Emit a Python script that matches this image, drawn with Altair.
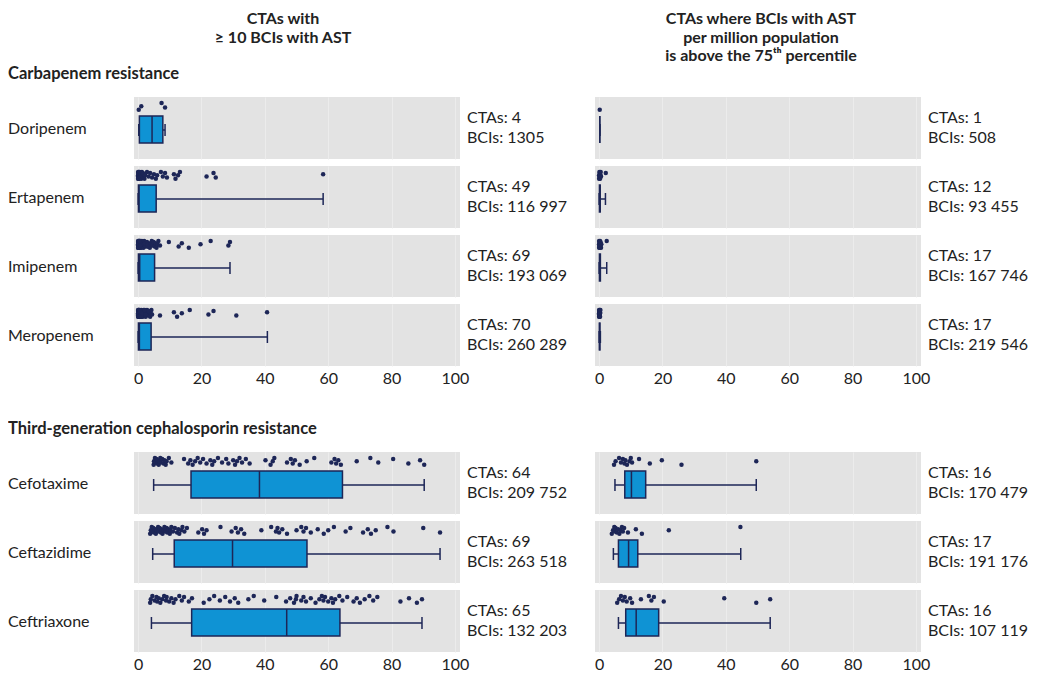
import altair as alt
import pandas as pd

# ---------------- data ----------------
drugs_carb = ["Doripenem", "Ertapenem", "Imipenem", "Meropenem"]
drugs_ceph = ["Cefotaxime", "Ceftazidime", "Ceftriaxone"]
drugs_all = drugs_carb + drugs_ceph

col_title_left = ["CTAs with", "≥ 10 BCIs with AST"]
col_title_right = ["CTAs where BCIs with AST", "per million population", "is above the 75ᵗʰ percentile"]
group_titles = ["Carbapenem resistance", "Third-generation cephalosporin resistance"]
x_ticks = [0, 20, 40, 60, 80, 100]

# box statistics, in drug order (lo whisker, Q1, median, Q3, hi whisker)
left_lo = [0.2, 0.0, 0.0, 0.0, 4.9, 4.6, 4.2]
left_q1 = [0.4, 0.1, 0.1, 0.1, 16.7, 11.4, 16.9]
left_med = [4.4, 0.3, 0.5, 0.4, 38.3, 29.8, 46.9]
left_q3 = [7.8, 5.7, 5.2, 4.1, 64.5, 53.3, 63.7]
left_hi = [8.5, 58.4, 29.0, 40.8, 90.3, 95.3, 89.6]

right_lo = [0.2, 0.0, 0.0, 0.0, 5.0, 4.5, 6.1]
right_q1 = [0.2, 0.1, 0.1, 0.1, 8.1, 6.1, 8.4]
right_med = [0.2, 0.2, 0.2, 0.15, 10.2, 9.3, 11.7]
right_q3 = [0.2, 0.35, 0.4, 0.25, 14.7, 12.2, 18.8]
right_hi = [0.2, 2.0, 2.4, 0.4, 49.6, 44.7, 54.0]

left_ctas = [4, 49, 69, 70, 64, 69, 65]
left_bcis = [1305, 116997, 193069, 260289, 209752, 263518, 132203]
right_ctas = [1, 12, 17, 17, 16, 17, 16]
right_bcis = [508, 93455, 167746, 219546, 170479, 191176, 107119]

# individual CTA values (% resistant)
pts_L_doripenem = [0.2, 1.0, 7.4, 8.5]
pts_L_ertapenem = [0, 0, 0, 0, 0.05, 0.1, 0.1, 0.1, 0.15, 0.2, 0.2, 0.3, 0.3, 0.4, 0.4,
                   0.5, 0.5, 0.6, 0.7, 0.8, 0.9, 1.0, 1.1, 1.2, 1.3, 1.5, 1.6, 1.8, 2.0, 2.2,
                   2.8, 3.3, 3.8, 4.4, 5.0, 5.6, 6.0, 7.2, 7.8, 8.5, 9.1, 11.3, 11.8, 12.6,
                   13.2, 21.6, 23.8, 24.5, 58.4]
pts_L_imipenem = [0, 0, 0, 0, 0, 0.05, 0.1, 0.1, 0.1, 0.15, 0.2, 0.2, 0.2, 0.25, 0.3, 0.3,
                  0.35, 0.4, 0.4, 0.5, 0.5, 0.55, 0.6, 0.7, 0.7, 0.8, 0.9, 1.0, 1.0, 1.1,
                  1.2, 1.3, 1.4, 1.5, 1.6, 1.7, 1.8, 1.9, 2.0, 2.1, 2.2, 2.2, 0.05, 0.15,
                  0.45, 0.65, 2.8, 3.1, 3.4, 3.7, 4.0, 4.3, 4.6, 4.9, 5.2, 5.5, 5.8, 6.1,
                  6.4, 6.9, 9.7, 12.8, 13.8, 16.0, 19.7, 22.9, 28.5, 29.0, 3.0]
pts_L_meropenem = [0, 0, 0, 0, 0, 0, 0.05, 0.05, 0.1, 0.1, 0.1, 0.15, 0.15, 0.2, 0.2, 0.2,
                   0.25, 0.3, 0.3, 0.35, 0.4, 0.4, 0.45, 0.5, 0.5, 0.6, 0.6, 0.7, 0.8, 0.9,
                   1.0, 1.1, 1.2, 1.3, 1.4, 1.5, 1.6, 1.7, 1.8, 1.9, 2.0, 2.2, 2.4, 2.6,
                   2.8, 3.0, 3.2, 3.4, 3.6, 3.8, 4.0, 4.2, 4.4, 0.65, 0.75, 0.85, 1.05,
                   1.25, 2.1, 2.3, 3.3, 6.9, 11.3, 12.3, 13.8, 16.3, 22.2, 23.8, 31.0, 40.7]
pts_L_cefotaxime = [4.9, 5.0, 5.3, 5.5, 5.8, 6.0, 6.2, 6.5, 6.8, 7.0, 7.2, 7.6, 8.0, 8.3,
                    8.7, 9.0, 9.7, 10.5, 14.5, 15.8, 16.5, 17.2, 18.0, 18.8, 19.6, 20.5,
                    21.6, 22.8, 23.4, 24.0, 25.2, 26.5, 27.8, 28.5, 30.0, 30.6, 31.2, 32.0,
                    32.8, 34.0, 35.2, 40.2, 41.8, 42.5, 43.0, 47.0, 48.2, 48.8, 49.5, 51.0,
                    53.2, 55.6, 61.0, 62.0, 62.5, 63.2, 64.0, 69.0, 73.3, 75.8, 80.5, 85.3,
                    89.0, 90.3]
pts_L_ceftazidime = [3.8, 4.0, 4.3, 4.6, 4.8, 5.0, 5.4, 5.6, 5.9, 6.3, 6.5, 6.8, 7.2, 7.4,
                     7.7, 8.1, 8.3, 8.6, 9.0, 9.2, 9.5, 10.0, 10.2, 10.5, 11.0, 11.6, 12.3,
                     12.7, 13.0, 13.6, 14.0, 14.6, 15.4, 19.0, 20.2, 20.8, 21.6, 26.0, 29.5,
                     30.8, 31.5, 32.5, 33.5, 38.9, 42.0, 43.5, 44.0, 44.5, 45.5, 47.0, 50.0,
                     51.5, 52.2, 53.0, 54.5, 56.7, 58.6, 60.0, 61.8, 65.5, 67.0, 71.0, 72.5,
                     73.5, 75.0, 78.7, 80.6, 90.0, 95.3]
pts_L_ceftriaxone = [3.8, 4.0, 4.5, 5.2, 5.8, 6.0, 6.5, 7.0, 7.6, 8.2, 8.8, 9.0, 9.8, 10.5,
                     11.2, 11.8, 13.0, 13.8, 14.5, 16.0, 17.0, 20.7, 22.5, 24.0, 25.8, 27.5,
                     29.0, 30.5, 31.6, 34.8, 36.5, 39.8, 43.6, 46.7, 48.0, 49.2, 49.8, 50.0,
                     51.5, 52.2, 53.0, 54.5, 56.0, 57.2, 58.0, 58.5, 59.0, 60.0, 61.0, 61.5,
                     62.2, 63.5, 64.5, 66.0, 68.0, 69.0, 70.0, 71.5, 73.0, 74.2, 75.5, 82.8,
                     85.5, 88.0, 89.6]

pts_R_doripenem = [0.2]
pts_R_ertapenem = [0, 0, 0.1, 0.1, 0.2, 0.2, 0.3, 0.3, 0.4, 0.5, 0.6, 2.1]
pts_R_imipenem = [0, 0, 0, 0.1, 0.1, 0.1, 0.2, 0.2, 0.2, 0.3, 0.3, 0.4, 0.4, 0.5, 0.6, 0.7, 2.4]
pts_R_meropenem = [0, 0, 0, 0, 0.1, 0.1, 0.1, 0.1, 0.1, 0.2, 0.2, 0.2, 0.2, 0.3, 0.3, 0.3, 0.4]
pts_R_cefotaxime = [4.7, 5.2, 6.3, 6.9, 7.5, 8.0, 8.3, 8.8, 9.6, 10.0, 10.4, 12.6, 16.0,
                    19.8, 26.0, 49.6]
pts_R_ceftazidime = [4.0, 4.4, 4.8, 5.0, 5.2, 5.6, 6.0, 6.4, 6.8, 7.2, 7.5, 7.9, 9.1, 11.6,
                     13.5, 22.0, 44.6]
pts_R_ceftriaxone = [5.7, 6.3, 6.9, 7.5, 8.1, 8.7, 9.8, 10.4, 13.2, 15.7, 16.5, 17.3, 20.4,
                     39.5, 49.6, 54.0]

pts_left = [pts_L_doripenem, pts_L_ertapenem, pts_L_imipenem, pts_L_meropenem,
            pts_L_cefotaxime, pts_L_ceftazidime, pts_L_ceftriaxone]
pts_right = [pts_R_doripenem, pts_R_ertapenem, pts_R_imipenem, pts_R_meropenem,
             pts_R_cefotaxime, pts_R_ceftazidime, pts_R_ceftriaxone]

# ---------------- style ----------------
W, H = 326, 62
GAP = 72  # spacer between the two groups
FONT = "Lato"
NAVY = "#1d2657"
BLUE = "#0f93d4"
TXT = "#222222"
XS = alt.Scale(domain=[-1.3, 101.6], nice=False, zero=False)


def fmt(n):
    return f"{n:,}".replace(",", " ") if n >= 10000 else str(n)


def panel(side, i, show_axis, extra_titles=None):
    if side == "L":
        stats = (left_lo[i], left_q1[i], left_med[i], left_q3[i], left_hi[i])
        pts, ctas, bcis = pts_left[i], left_ctas[i], left_bcis[i]
    else:
        stats = (right_lo[i], right_q1[i], right_med[i], right_q3[i], right_hi[i])
        pts, ctas, bcis = pts_right[i], right_ctas[i], right_bcis[i]
    lo, q1, med, q3, hi = stats
    axis = alt.Axis(values=x_ticks, grid=True, gridColor="#ececec", gridWidth=1,
                    labels=show_axis, ticks=False, domain=False, title=None,
                    labelFontSize=16, labelColor=TXT, labelPadding=4, labelFont=FONT)
    pdf = pd.DataFrame({"v": pts, "k": list(range(len(pts)))})
    sdf = pd.DataFrame({"lo": [lo], "q1": [q1], "med": [med], "q3": [q3], "hi": [hi],
                        "drug": [drugs_all[i]], "t1": [f"CTAs: {ctas}"],
                        "t2": [f"BCIs: {fmt(bcis)}"]})
    base = alt.Chart(sdf)

    points = alt.Chart(pdf).transform_calculate(
        jy="0.85 + 0.018*((datum.k*3)%7 - 3)"
    ).mark_circle(size=20, opacity=1, color=NAVY).encode(
        x=alt.X("v:Q", scale=XS, axis=axis),
        y=alt.Y("jy:Q", scale=alt.Scale(domain=[0, 1]), axis=None),
    )
    whisk = base.mark_rule(color=NAVY, strokeWidth=1.5).encode(
        x=alt.X("lo:Q", scale=XS, axis=axis), x2="hi:Q", y=alt.value(33))
    cap_lo = base.mark_rule(color=NAVY, strokeWidth=1.5).encode(
        x=alt.X("lo:Q", scale=XS, axis=axis), y=alt.value(27), y2=alt.value(39))
    cap_hi = base.mark_rule(color=NAVY, strokeWidth=1.5).encode(
        x=alt.X("hi:Q", scale=XS, axis=axis), y=alt.value(27), y2=alt.value(39))
    box = base.mark_rect(color=BLUE, stroke=NAVY, strokeWidth=1.5).encode(
        x=alt.X("q1:Q", scale=XS, axis=axis), x2="q3:Q", y=alt.value(19), y2=alt.value(46))
    median = base.mark_rule(color=NAVY, strokeWidth=1.5).encode(
        x=alt.X("med:Q", scale=XS, axis=axis), y=alt.value(19), y2=alt.value(46))
    t1 = base.mark_text(align="left", baseline="middle", fontSize=16, color=TXT, font=FONT).encode(
        x=alt.value(W + 7), y=alt.value(H / 2 - 10), text="t1:N")
    t2 = base.mark_text(align="left", baseline="middle", fontSize=16, color=TXT, font=FONT).encode(
        x=alt.value(W + 7), y=alt.value(H / 2 + 10), text="t2:N")
    layers = [points, whisk, cap_lo, cap_hi, box, median, t1, t2]
    if side == "L":
        layers.append(base.mark_text(align="left", baseline="middle", fontSize=16, color=TXT,
                                     font=FONT).encode(x=alt.value(-126), y=alt.value(H / 2 + 1),
                                                       text="drug:N"))
    if extra_titles is not None:
        for kind, txt in extra_titles:
            if kind == "group":
                layers.append(base.mark_text(align="left", baseline="middle", fontSize=16.5,
                                             fontWeight="bold", color=TXT, font=FONT).encode(
                    x=alt.value(-126), y=alt.value(-23), text=alt.value(txt)))
            elif kind == "colL":
                layers.append(base.mark_text(align="center", baseline="top", fontSize=16,
                                             fontWeight="bold", color=TXT, font=FONT,
                                             lineHeight=18.5).encode(
                    x=alt.value(W / 2 - 14), y=alt.value(-86), text=alt.value(txt)))
            elif kind == "colR":
                layers.append(base.mark_text(align="center", baseline="top", fontSize=16,
                                             fontWeight="bold", color=TXT, font=FONT,
                                             lineHeight=18.5).encode(
                    x=alt.value(W / 2 + 3), y=alt.value(-86), text=alt.value(txt)))
    return alt.layer(*layers).properties(width=W, height=H)


def spacer():
    return alt.Chart(pd.DataFrame({"a": [0]})).mark_point(opacity=0).encode(
        x=alt.value(0), y=alt.value(0)
    ).properties(width=W, height=GAP,
                 view=alt.ViewBackground(fill="white", opacity=0, strokeOpacity=0, stroke=None))


cells = []
for grp_idx, (indices, gtitle) in enumerate([([0, 1, 2, 3], group_titles[0]),
                                              ([4, 5, 6], group_titles[1])]):
    if grp_idx == 1:
        cells += [spacer(), spacer()]
    n = len(indices)
    for j, i in enumerate(indices):
        last = j == n - 1
        extraL, extraR = None, None
        if j == 0:
            extraL = [("group", gtitle)]
            extraR = []
            if grp_idx == 0:
                extraL.append(("colL", col_title_left))
                extraR.append(("colR", col_title_right))
        cells.append(panel("L", i, last, extraL))
        cells.append(panel("R", i, last, extraR))

chart = alt.concat(*cells, columns=2, spacing=alt.RowColnumber(row=7, column=135),
                   bounds="flush").properties(
    padding={"left": 0, "top": 3, "right": 2, "bottom": 0}
).configure(font=FONT).configure_view(fill="#e3e3e3", stroke=None)

chart.save("out.html", embed_options={"renderer": "svg", "actions": False})
